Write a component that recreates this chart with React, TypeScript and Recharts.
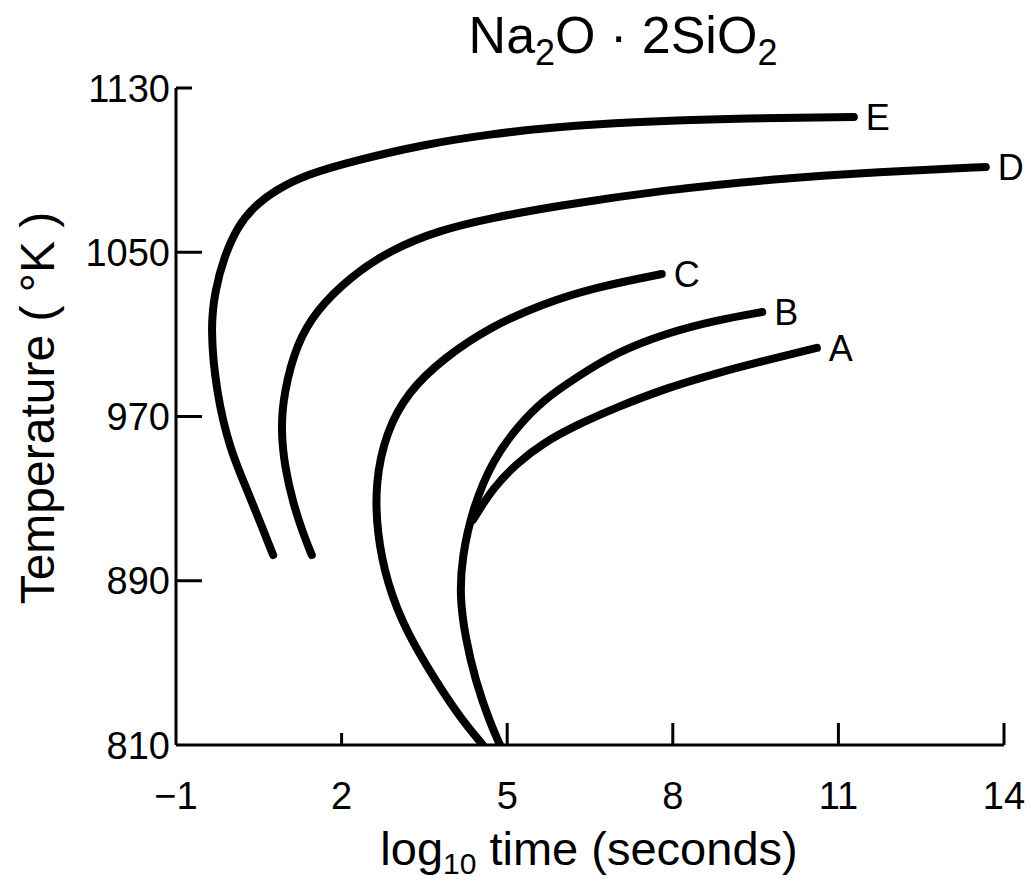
import React from 'react';
import { LineChart, Line, XAxis, YAxis, Label } from 'recharts';

const xTicks = [-1, 2, 5, 8, 11, 14];
const yTicks = [810, 890, 970, 1050, 1130];

const curveA = [
  { x: 4.38, y: 919.6 }, { x: 4.74, y: 935.2 }, { x: 5.18, y: 947.3 }, { x: 5.65, y: 957.1 },
  { x: 6.26, y: 965.9 }, { x: 6.99, y: 974.6 }, { x: 7.89, y: 983.9 }, { x: 8.8, y: 991.2 },
  { x: 9.71, y: 997.5 }, { x: 10.61, y: 1003.4 },
];
const curveB = [
  { x: 4.87, y: 810 }, { x: 4.69, y: 820.7 }, { x: 4.42, y: 841.6 }, { x: 4.24, y: 862.6 },
  { x: 4.14, y: 882.1 }, { x: 4.18, y: 901.6 }, { x: 4.38, y: 925.9 }, { x: 4.74, y: 948.8 },
  { x: 5.18, y: 964.9 }, { x: 5.65, y: 978.0 }, { x: 6.26, y: 989.2 }, { x: 6.99, y: 1001.4 },
  { x: 7.89, y: 1010.7 }, { x: 8.8, y: 1017.0 }, { x: 9.62, y: 1020.9 },
];
const curveC = [
  { x: 4.56, y: 810 }, { x: 4.14, y: 823.6 }, { x: 3.73, y: 840.2 }, { x: 3.18, y: 864.5 },
  { x: 2.82, y: 888.9 }, { x: 2.64, y: 913.2 }, { x: 2.61, y: 937.6 }, { x: 2.8, y: 962.0 },
  { x: 3.2, y: 982.0 }, { x: 3.85, y: 998.5 }, { x: 4.69, y: 1013.5 }, { x: 5.6, y: 1024.5 },
  { x: 6.6, y: 1033.0 }, { x: 7.8, y: 1039.4 },
];
const curveD = [
  { x: 1.46, y: 902.5 }, { x: 1.3, y: 913.2 }, { x: 1.12, y: 927.9 }, { x: 0.97, y: 945.4 },
  { x: 0.9, y: 963.4 }, { x: 0.95, y: 981.4 }, { x: 1.19, y: 1005.8 }, { x: 1.55, y: 1021.9 },
  { x: 2.15, y: 1037.9 }, { x: 2.88, y: 1051.1 }, { x: 3.78, y: 1060.8 }, { x: 4.69, y: 1066.6 },
  { x: 5.9, y: 1072.6 }, { x: 7.84, y: 1080.3 }, { x: 9.78, y: 1085.6 }, { x: 11.74, y: 1089.1 },
  { x: 13.67, y: 1091.5 },
];
const curveE = [
  { x: 0.76, y: 902.5 }, { x: 0.58, y: 914.7 }, { x: 0.29, y: 934.2 }, { x: -0.02, y: 953.7 },
  { x: -0.27, y: 981.4 }, { x: -0.38, y: 1013.6 }, { x: -0.29, y: 1031.6 }, { x: -0.13, y: 1047.7 },
  { x: 0.11, y: 1062.3 }, { x: 0.4, y: 1072.0 }, { x: 0.8, y: 1080.3 }, { x: 1.37, y: 1088.0 },
  { x: 2.28, y: 1094.9 }, { x: 3.47, y: 1102.4 }, { x: 4.69, y: 1107.6 }, { x: 5.9, y: 1111.0 },
  { x: 7.21, y: 1113.4 }, { x: 9.14, y: 1115.2 }, { x: 11.28, y: 1115.9 },
];

const curveNames = ['A', 'B', 'C', 'D', 'E'];
const curveData = [curveA, curveB, curveC, curveD, curveE];

const FONT = '"Liberation Sans", Arial, sans-serif';

const XTick = (props: any) => {
  const { x, y, payload } = props;
  const v = payload.value;
  return (
    <g>
      {v !== -1 && (
        <line x1={x} y1={y} x2={x} y2={y - (v === 2 ? 12 : 22)} stroke="#000" strokeWidth={3} />
      )}
      <text x={x} y={y + 64} textAnchor="middle" fontSize={38} fontFamily={FONT} fill="#000">
        {v < 0 ? '\u2212' + Math.abs(v) : String(v)}
      </text>
    </g>
  );
};

const YTick = (props: any) => {
  const { x, y, payload } = props;
  const v = payload.value;
  return (
    <g>
      {v !== 810 && (
        <line x1={x} y1={y} x2={x + (v === 1130 ? 16 : 26)} y2={y} stroke="#000" strokeWidth={3} />
      )}
      <text x={x - 6} y={y} dy="0.36em" textAnchor="end" fontSize={38} fontFamily={FONT} fill="#000">
        {String(v)}
      </text>
    </g>
  );
};

const makeEndLabel = (name: string, n: number) => (p: any) => {
  if (p.index !== n - 1) return null;
  return (
    <text x={p.x + 12} y={p.y} dy="0.36em" fontSize={36} fontFamily={FONT} fill="#000">
      {name}
    </text>
  );
};

export default function App() {
  return (
    <div style={{ position: 'absolute', left: 0, top: 0, width: 1030, height: 880, background: '#fff' }}>
      <LineChart width={1030} height={880} margin={{ top: 88, right: 26, left: 0, bottom: 0 }}>
        <text x={623} y={53} textAnchor="middle" fontSize={52} fontFamily={FONT} fill="#000">
          Na<tspan fontSize={36} dy={12}>2</tspan>
          <tspan dy={-12}>O · 2SiO</tspan>
          <tspan fontSize={36} dy={12}>2</tspan>
        </text>
        <XAxis
          type="number"
          dataKey="x"
          domain={[-1, 14]}
          ticks={xTicks}
          interval={0}
          height={135}
          tickSize={0}
          tickMargin={0}
          tickLine={false}
          axisLine={{ stroke: '#000', strokeWidth: 3 }}
          tick={<XTick />}
          allowDataOverflow
        >
          <Label
            content={(p: any) => {
              const vb = p.viewBox;
              return (
                <text x={589} y={vb.y + 120} textAnchor="middle" fontSize={47} fontFamily={FONT} fill="#000">
                  log<tspan fontSize={30} dy={9}>10</tspan>
                  <tspan dy={-9}> time (seconds)</tspan>
                </text>
              );
            }}
          />
        </XAxis>
        <YAxis
          type="number"
          domain={[810, 1130]}
          ticks={yTicks}
          interval={0}
          width={176}
          tickSize={0}
          tickMargin={0}
          tickLine={false}
          axisLine={{ stroke: '#000', strokeWidth: 3 }}
          tick={<YTick />}
          allowDataOverflow
        >
          <Label
            content={() => {
              const cy = 408;
              return (
                <text
                  x={54}
                  y={cy}
                  transform={`rotate(-90 54 ${cy})`}
                  textAnchor="middle"
                  fontSize={48}
                  fontFamily={FONT}
                  fill="#000"
                >
                  Temperature ( °K )
                </text>
              );
            }}
          />
        </YAxis>
        {curveData.map((d, i) => (
          <Line
            key={curveNames[i]}
            data={d}
            dataKey="y"
            type="basis"
            stroke="#000"
            strokeWidth={8}
            strokeLinecap="round"
            dot={false}
            activeDot={false}
            isAnimationActive={false}
            label={makeEndLabel(curveNames[i], d.length)}
          />
        ))}
      </LineChart>
    </div>
  );
}
